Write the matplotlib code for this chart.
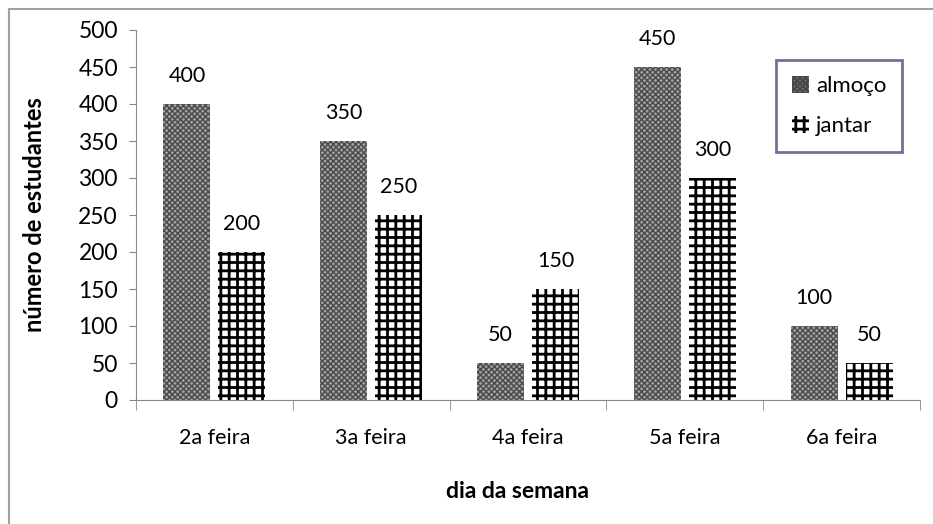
import matplotlib
matplotlib.use("Agg")
import matplotlib.pyplot as plt
import numpy as np
from matplotlib.patches import Rectangle, Patch

dias = ["2a feira", "3a feira", "4a feira", "5a feira", "6a feira"]
almoco = [400, 350, 50, 450, 100]
jantar = [200, 250, 150, 300, 50]

plt.rcParams["font.family"] = ["Lato", "DejaVu Sans"]

fig = plt.figure(figsize=(9.33, 5.24), dpi=100)
ax = fig.add_axes([136 / 933, 1 - 400 / 524, (920 - 136) / 933, 370 / 524])

x = np.arange(len(dias))
larg = 0.30

plt.rcParams["hatch.linewidth"] = 1.0
b1 = ax.bar(x - 0.175, almoco, larg, facecolor="#a2a2a2", edgecolor="#4a4a4a",
            hatch="xxxxxx", linewidth=0)
h1 = Patch(facecolor="#a2a2a2", edgecolor="#4a4a4a", hatch="xxxxxx", linewidth=0)

plt.rcParams["hatch.linewidth"] = 2.0
b2 = ax.bar(x + 0.175, jantar, larg, facecolor="white", edgecolor="black",
            hatch="++", linewidth=0)
h2 = Patch(facecolor="white", edgecolor="black", hatch="++", linewidth=0)

# etiquetas dos valores
for barras in (b1, b2):
    for b in barras:
        ax.annotate(f"{int(b.get_height())}",
                    (b.get_x() + b.get_width() / 2, b.get_height()),
                    xytext=(0, 13), textcoords="offset points",
                    ha="center", va="bottom", fontsize=15.5)

ax.set_xlim(-0.5, len(dias) - 0.5)
ax.set_ylim(0, 500)
ax.set_yticks(range(0, 501, 50))
ax.set_xticks(x)
ax.set_xticklabels(dias)
ax.set_xticks(np.arange(-0.5, len(dias)), minor=True)
ax.tick_params(axis="x", which="major", length=0, pad=20, labelsize=15.5)
ax.tick_params(axis="x", which="minor", length=7, color="#888888", direction="out")
ax.tick_params(axis="y", length=5, color="#888888", labelsize=16.5, pad=8)

for s in ["top", "right"]:
    ax.spines[s].set_visible(False)
for s in ["left", "bottom"]:
    ax.spines[s].set_color("#888888")

fig.text(35 / 933, 1 - 215 / 524, "número de estudantes", fontsize=17,
         fontweight="bold", ha="center", va="center", rotation=90)
fig.text(517 / 933, 1 - 492 / 524, "dia da semana", fontsize=16.5,
         fontweight="bold", ha="center", va="center")

leg = ax.legend([h1, h2], ["almoço", "jantar"], loc="upper left",
                bbox_to_anchor=(776 / 933, 1 - 60 / 524), bbox_transform=fig.transFigure,
                borderaxespad=0, fontsize=16, handlelength=0.8, handleheight=0.8,
                handletextpad=0.3, labelspacing=0.9, fancybox=False,
                borderpad=0.7, framealpha=1)
leg.get_frame().set_edgecolor("#7070a0")
leg.get_frame().set_linewidth(2)

# moldura externa
fig.patches.append(Rectangle((9 / 933, -0.2), 1.2, 1 - 9 / 524 + 0.2,
                             transform=fig.transFigure, fill=False,
                             edgecolor="#a0a0a0", linewidth=1.5))

fig.savefig("out.png", dpi=100)
